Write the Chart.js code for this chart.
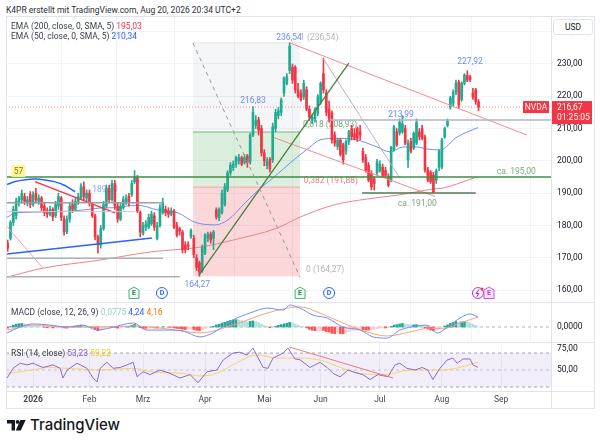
<!DOCTYPE html>
<html>
<head>
<meta charset="utf-8">
<title>NVDA Tageschart</title>
<style>
  body { margin: 0; background: #fff; font-family: Roboto, "Noto Sans", sans-serif; }
  #wrap { position: relative; width: 600px; height: 444px; overflow: hidden; background: #fff; }
  canvas { position: absolute; left: 0; }
  .t { position: absolute; font-size: 8.5px; line-height: 12px; color: #131722; white-space: nowrap; }
  .sep { position: absolute; background: #e0e3eb; }
</style>
</head>
<body>
<div id="wrap">
  <canvas id="price" style="top:17px"></canvas>
  <canvas id="macd" style="top:303px"></canvas>
  <canvas id="rsi" style="top:343px"></canvas>

  <div class="sep" style="left:6px;top:16px;width:588px;height:1px"></div>
  <div class="sep" style="left:6px;top:408px;width:588px;height:1px"></div>
  <div class="sep" style="left:6px;top:16px;width:1px;height:393px"></div>
  <div class="sep" style="left:594px;top:16px;width:1px;height:393px"></div>
  <div class="sep" style="left:551px;top:16px;width:1px;height:393px"></div>
  <div class="sep" style="left:6px;top:302px;width:588px;height:1px"></div>
  <div class="sep" style="left:6px;top:342px;width:588px;height:1px"></div>
  <div class="sep" style="left:6px;top:391px;width:588px;height:1px"></div>

  <div class="t" style="left:6px;top:4px;color:#2a2e39">K4PR erstellt mit TradingView.com, Aug 20, 2026 20:34 UTC+2</div>
  <div class="t" style="left:11px;top:20px;color:#3a3e4a">EMA (200, close, 0, SMA, 5) <span style="color:#f23645">195,03</span></div>
  <div class="t" style="left:11px;top:30px;color:#3a3e4a">EMA (50, close, 0, SMA, 5) <span style="color:#2962ff">210,34</span></div>
  <div class="t" style="left:11px;top:306px;color:#3a3e4a">MACD (close, 12, 26, 9) <span style="color:#8fd3c9">0,0775</span> <span style="color:#2962ff">4,24</span> <span style="color:#ff6d00">4,16</span></div>
  <div class="t" style="left:11px;top:347px;color:#3a3e4a">RSI (14, close) <span style="color:#7e57c2">53,23</span> <span style="color:#f5c518">59,22</span></div>
  <div class="t" style="left:553px;top:19px;width:38px;height:14px;line-height:14px;text-align:center;border:1px solid #e0e3eb;border-radius:3px;background:#fff">USD</div>

  <svg style="position:absolute;left:7px;top:420px" width="19" height="11" viewBox="0 0 19 11">
    <path d="M0 0 H8 V10.5 H4.6 V3.6 H0 Z" fill="#131722"/>
    <circle cx="10.6" cy="1.9" r="1.9" fill="#131722"/>
    <path d="M13.4 0 H18.6 L13.8 10.5 H8.8 Z" fill="#131722"/>
  </svg>
  <div class="t" style="left:30px;top:416px;font-size:15px;line-height:18px;font-family:Inter, Roboto, sans-serif;font-weight:500">TradingView</div>
</div>

<script src="https://cdn.jsdelivr.net/npm/chart.js"></script>
<script>
  // Tageskerzen, Index 0 = 2. Jan 2026 (Handelstage), erster Wert = Index -9
  const FIRST = -9;
  const opens = [
    174.5,176,181,183,187,188,189,187,189.5,
    186.5,190,187.5,188.5,186,184.5,183.5,185,183,186,
    188.5,182,178,182,186.5,185,187,188.5,192,188.5,
    190,186.5,183,176.5,174,179,186,191.5,188,193,
    186,182,185.5,187,189,189.5,193.5,194.7,184,177.5,
    179.5,179.5,180.5,183,176,180,184,185,184.5,183.5,
    184.5,180,179,178,174,174,176.5,176,170,168.5,
    166,171.5,176,177.3,176,184.8,182.5,184,186.5,191,
    196.3,198,199,200,201,199.5,201.5,199.7,208,211,
    212.7,210,202.5,198.5,200.5,200.3,210,214,215,221,
    224,228,229,229,222,221,219.8,222,216,212.5,
    213,214.8,218,227,221,216,214.8,208,204.5,206.5,
    205,203,206,210,208.5,210,209,203,201,198.7,
    196,194.5,196.3,197,198,197,195,194,203.4,209,
    208.6,209,210,200.3,206,204,205.5,209,210,207.4,
    197.2,196.5,195.6,194,198,198.1,207.4,211,216.7,217.9,
    221.3,224.4,219,224,226.5,226,221,222,218.3
  ];
  const highs = [
    175.5,181.5,186,188.5,189,191,190,189,190.5,
    190.5,191.5,189.5,189,187,185.5,186,185.5,187.5,190,
    189,183,183,187,188,188.5,190,193,193.5,191,
    191,187,183.5,177,180,187.5,192.5,192.5,194,194,
    187,187,189,189.5,190,194,197,195.5,184.5,181,
    181.5,183.5,184.5,184,181,186.5,188.5,186,185.5,185.5,
    185,181,179.5,178.5,175,175,179,177,171,169,
    174,177.5,178,178,178.5,185.5,185.5,191,193,197,
    199.5,200,201.5,202,201.5,202,202,208.5,216.83,214,
    213.5,211,203.5,201,201,211.7,216,216.5,219.5,226,
    227,236.54,230,229.5,224,222,225,223,217,214.5,
    216.5,220.5,224.5,231.8,222,218.5,215.5,209,207,207,
    205.5,206.5,209.5,211,210,210.5,211,204,202,199.5,
    197,195,200.5,200,199,198,196,204.5,211,210,
    213,213.99,211,206.5,207,209,213,210,211,208,
    198,197,196.5,197.5,203.5,207,210.5,213,220,222,
    225,225,224.5,227,227.92,226.5,222.5,222.5,219
  ];
  const lows = [
    172,175.5,180,182,186,187,186.5,186,185.5,
    186,187,186.5,184.5,183,182.5,183,181.5,182.5,185,
    181.5,177,177.5,181,184,184.5,186.5,188,188,187.5,
    186,182.5,175.5,171.5,173,178.5,185.5,187,187.5,185,
    181,181.5,185,186.5,186,189,193,184,176.5,177,
    178.5,179,180,178.5,175.5,179.5,183.5,183,182.5,183,
    179,176.5,177,171.5,171.5,172.5,176,170,166,164.27,
    165.5,171,175,174.5,172.5,182,181.5,183.5,186,190.5,
    195.5,197,198,199,198.5,199,198,199,207.5,210,
    208,201.5,198.5,197.5,196.5,199.5,209,213,214,220,
    223.5,227,224,221,219.5,218.5,219,215.5,212.5,211.5,
    212,214,217.5,221,214,212,205.5,204.5,203.5,201.5,
    199,202,205,206.5,206.5,206,206.5,199.5,196.5,193.5,
    191,191,195.5,196.5,195,195,192,193.5,203,204.5,
    208,208.5,205,198,202.5,203.5,205,206.5,206.5,196.5,
    193.5,193,190,193,197,197.5,207,210.5,216,217,
    220.5,216.5,218.5,223.5,224.5,224.5,219,217.5,215.5
  ];
  const closes = [
    173,181,185,187.5,188.5,190,187.5,188,186.5,
    189.5,188,188.5,185.5,184,183.5,185,182.6,186.5,189,
    182.5,178,182,186,185,187.5,189,192,189,190,
    187,183,176.5,174,179,186.5,191.5,188,193,186,
    182,186,188,188.5,187,193,195,184.5,178,180,
    180.5,182.5,183.5,179.5,180,185.5,187,184,183.5,184.5,
    179.5,177,178.3,172.5,172.5,173.5,178.5,171,167,165.5,
    173.3,177,177.4,175.5,178,182.6,185,190,192,196.3,
    198.7,199,201,201,199,201,199.5,208,215,212.5,
    209.5,202.5,200,200,197.5,210.5,215,215.5,218.9,225.6,
    226,235.5,225,222,220,219,224,216,213.6,213.5,
    216,219.8,224,222,215,213,206.5,205.5,206.5,202,
    200.3,206,209,207.5,207,207,208,200.3,197,194,
    192,193,199.7,199,195.5,195.5,192.5,204.3,210.5,205,
    212,211.5,205.5,205.5,203,208.5,212,207.5,207,197.2,
    194,193.5,190.4,197,203,206.5,210,212.5,219.5,221.3,
    224.1,217.3,224,226.6,225,225.2,219.8,218.3,216.67
  ];

  // gleitende Durchschnitte [Index, Wert]
  const ema50 = [[-9.2,182.6],[-5.7,184],[6,184.2],[17.7,184.8],[23.8,185.4],[28.4,185.5],[36.9,186.3],
    [44.3,184.8],[51.4,183.9],[57.4,181],[64.5,180.2],[69.1,181.7],[75.2,187],[81.2,192],[84.8,194.5],
    [91.1,199.3],[98.2,204.3],[101.8,206.5],[107.8,207],[114.9,206.5],[122,204.3],[126.6,202.8],
    [131.2,204.3],[136.2,204.3],[139.7,203.7],[144.3,203.4],[150.4,207.4],[157.8,210.34]];
  const ema200 = [[-9.2,164],[3.5,166.8],[23.8,169.3],[41.5,171.8],[59.2,173.3],[70.9,175.5],[86.5,179.2],
    [94.7,182.6],[106.4,186.3],[118.4,188.2],[130.1,189.5],[141.8,191.3],[145.4,191.6],[157.4,195.03]];

  // MACD (12, 26, 9)
  const macdLine = [[-9.2,-2.5],[-4.6,0],[0,1.3],[6,0.8],[12,0],[17.7,0.8],[22.7,-1.3],[27.3,-0.4],[35.5,1.7],
    [40.4,-1.3],[47.5,-1.3],[53.2,-1.7],[59.2,-4.2],[63.8,-2.5],[70.9,3],[76.9,5.9],[83,8],[88.7,7.2],
    [91.1,9.3],[94.7,8],[99.3,5],[104.3,3.8],[109.9,0],[116,-1.3],[120.6,-4.2],[125.5,-4.7],[130.1,-1.3],
    [136.2,0.4],[139.7,0.8],[143.3,-2.5],[147.9,0.8],[151.4,3.8],[155,5.5],[157.8,4.24]];
  const macdSignal = [[-9.2,-1.3],[0,0.8],[12,0],[23.8,0],[35.5,0.4],[47.5,-0.8],[59.2,-2.5],[70.9,0.8],
    [83,5.9],[94.7,8.5],[101.8,5.9],[109.9,1.7],[118.4,-2.1],[125.5,-3.8],[133.7,-2.1],[140.8,-0.4],
    [145.4,-0.8],[151.4,1.7],[157.8,4.16]];
  const macdHist = [
    -0.5,0.2,0.8,1.2,1.4,1.5,1.3,1.0,0.7,
    0.5,0.4,0.3,0.1,-0.1,-0.3,-0.2,-0.4,-0.1,0.3,
    0.1,-0.4,-0.5,-0.2,0.1,0.3,0.5,0.8,0.6,0.4,
    0.2,-0.3,-1.0,-1.6,-1.5,-0.9,-0.3,-0.2,0.2,-0.1,
    -0.5,-0.4,-0.1,0.2,0.3,0.7,1.1,0.5,-0.3,-0.6,
    -0.6,-0.5,-0.3,-0.4,-0.5,-0.2,0.1,0.0,-0.1,-0.1,
    -0.4,-0.6,-0.7,-1.0,-1.1,-1.0,-0.8,-1.1,-1.4,-1.6,
    -1.1,-0.6,-0.2,0.0,0.3,0.9,1.2,1.7,2.0,2.4,
    2.8,3.0,3.1,3.0,2.7,2.5,2.2,2.4,2.6,2.3,
    1.9,1.2,0.6,0.2,-0.3,-0.2,0.3,0.7,1.0,1.3,
    1.6,2.0,1.7,1.2,0.8,0.3,0.1,-0.4,-1.0,-1.4,
    -1.6,-1.5,-1.4,-1.5,-1.9,-2.2,-2.7,-2.8,-2.7,-2.8,
    -2.9,-2.5,-2.0,-1.6,-1.4,-1.2,-1.0,-1.2,-1.3,-1.3,
    -1.2,-1.0,-0.7,-0.5,-0.4,-0.4,-0.3,0.2,0.8,1.0,
    1.3,1.5,1.3,1.1,0.9,0.9,1.0,0.8,0.6,-0.3,
    -0.9,-1.3,-1.6,-1.4,-0.9,-0.2,0.4,0.9,1.5,1.9,
    2.3,2.1,2.2,2.3,2.1,1.8,1.2,0.7,0.08
  ];

  // RSI (14) und sein gleitender Durchschnitt
  const rsi = [[-9.2,40.6],[-7.1,52],[-4.6,58],[-2.1,56],[0,58],[3.5,53],[7.1,56],[9.6,52],[10.6,40.6],
    [12.1,50],[15.6,58],[19.1,52],[21.3,40.6],[22.7,36],[23.8,52],[26.2,59],[28.4,52],[30.9,53],[33.3,56],
    [35.5,59],[36.9,42],[39,48],[41.5,44.6],[45,50],[48.6,46],[52.1,40.6],[55.7,44.6],[58.5,35],[61.7,48],
    [65.2,50],[67.4,61.7],[70.9,70],[73.4,71],[75.9,67.6],[78,75.8],[81.6,53],[83.3,52],[85.1,64],[88.7,70],
    [90.4,75.8],[92.9,63],[94.7,62],[98.2,53],[101.8,59],[104.3,53],[106.4,46],[108.9,42],[111.7,50],
    [114.2,47],[117,44.6],[119.5,38.8],[122.3,44.6],[125.9,42],[128.4,56],[130.1,58],[132.6,52],[135.5,50],
    [138,53],[140,50],[141.8,38.8],[144.3,52],[146.8,61.7],[148.9,64],[150.4,58],[152.5,63],[155,63],
    [156,56],[157.8,53.23]];
  const rsiMa = [[-9.2,46],[0,50],[5,53],[12.1,52],[23.8,50],[35.5,52],[41.5,48],[53.2,46],[59.2,43],
    [65.2,46],[70.9,56],[79.4,67.6],[86.5,64],[94.7,64],[101.8,61.7],[109.9,52],[118.4,45],[125.5,45],
    [133.7,50],[144.3,50],[151.4,53],[157.8,59.22]];

  // Achsen
  const priceTicks = [160,170,180,190,200,210,220,230,240];
  const monthIdx = [0,20,39,61,82,102,123,145,166];
  const monthLbl = ['2026','Feb','Mrz','Apr','Mai','Jun','Jul','Aug','Sep'];
  const lastPrice = 216.67;

  // Fibonacci-Retracement 164,27 -> 236,54
  const fibLow = 164.27, fib382 = 191.88, fib618 = 208.93, fibHigh = 236.54;

  const X_MIN = -9.6, X_MAX = 183.7;
  const UP = '#22ab94', DOWN = '#f23645';
  const GRID = '#f0f3fa';

  Chart.defaults.font.family = 'Roboto, "Noto Sans", sans-serif';
  Chart.defaults.font.size = 8.5;
  Chart.defaults.color = '#131722';
  Chart.defaults.animation = false;
  Chart.defaults.events = [];
  Chart.defaults.plugins.legend.display = false;
  Chart.defaults.plugins.tooltip.enabled = false;

  const fmt = (v, d) => v.toFixed(d).replace('.', ',');
  const pts = arr => arr.map(([x, y]) => ({x, y}));
  const idx = k => FIRST + k;

  function line(points, color, width, extra) {
    return Object.assign({
      type: 'line', data: pts(points), borderColor: color, borderWidth: width,
      pointRadius: 0, fill: false, tension: 0, order: 2
    }, extra || {});
  }

  function xAxis(showTicks) {
    return {
      type: 'linear', min: X_MIN, max: X_MAX, offset: false,
      grid: {color: GRID, drawTicks: false}, border: {display: false},
      ticks: {
        display: showTicks, autoSkip: false, maxRotation: 0, padding: 4, color: '#434651',
        font: c => ({size: 8.5, weight: c.tick && c.tick.value === 0 ? 'bold' : 'normal'}),
        callback: v => monthLbl[monthIdx.indexOf(v)]
      },
      afterBuildTicks: s => { s.ticks = monthIdx.map(v => ({value: v})); },
      afterFit: s => { s.height = showTicks ? 17 : 0; s.paddingLeft = 0; s.paddingRight = 0; }
    };
  }

  function yAxis(min, max, ticks, digits, grid) {
    return {
      position: 'right', min, max,
      grid: {display: grid, color: GRID, drawTicks: false}, border: {display: false},
      ticks: {padding: 6, color: '#131722', callback: v => fmt(v, digits)},
      afterBuildTicks: s => { s.ticks = ticks.map(v => ({value: v})); },
      afterFit: s => { s.width = 49; s.paddingTop = 0; s.paddingBottom = 0; }
    };
  }

  function drawLabel(chart, t) {
    const ctx = chart.ctx;
    const x = chart.scales.x.getPixelForValue(t.at[0]);
    const y = chart.scales.y.getPixelForValue(t.at[1]);
    ctx.save();
    ctx.font = '8.5px Roboto, "Noto Sans", sans-serif';
    ctx.fillStyle = t.color;
    ctx.textAlign = t.align || 'center';
    ctx.textBaseline = 'middle';
    ctx.fillText(t.text, x, y);
    ctx.restore();
  }

  function badge(chart, b) {
    const ctx = chart.ctx;
    const x = chart.scales.x.getPixelForValue(b.at);
    const y = chart.scales.y.getPixelForValue(159.1);
    ctx.save();
    ctx.lineWidth = 1;
    if (b.kind === 'E' || b.kind === 'P') {
      ctx.beginPath();
      ctx.moveTo(x - 5, y + 5.5); ctx.lineTo(x - 5, y - 3); ctx.lineTo(x, y - 6);
      ctx.lineTo(x + 5, y - 3); ctx.lineTo(x + 5, y + 5.5); ctx.closePath();
      ctx.fillStyle = b.kind === 'E' ? '#eef7f2' : '#fcecfe';
      ctx.strokeStyle = b.kind === 'E' ? '#4caf7d' : '#e040fb';
      ctx.fill(); ctx.stroke();
      ctx.fillStyle = b.kind === 'E' ? '#2e7d5b' : '#c22edb';
      ctx.font = 'bold 7px Roboto, sans-serif';
      ctx.textAlign = 'center'; ctx.textBaseline = 'middle';
      ctx.fillText('E', x, y + 0.5);
    } else if (b.kind === 'D') {
      ctx.beginPath(); ctx.arc(x, y, 5.5, 0, Math.PI * 2);
      ctx.fillStyle = '#fff'; ctx.strokeStyle = '#2962ff'; ctx.fill(); ctx.stroke();
      ctx.fillStyle = '#2962ff'; ctx.font = 'bold 7px Roboto, sans-serif';
      ctx.textAlign = 'center'; ctx.textBaseline = 'middle';
      ctx.fillText('D', x, y + 0.5);
    } else {
      ctx.beginPath(); ctx.arc(x, y, 5.5, 0, Math.PI * 2);
      ctx.fillStyle = '#f8eefa'; ctx.strokeStyle = '#ab47bc'; ctx.fill(); ctx.stroke();
      ctx.beginPath();
      ctx.moveTo(x + 1, y - 3.5); ctx.lineTo(x - 1.8, y + 0.5); ctx.lineTo(x + 0.8, y + 0.5); ctx.lineTo(x - 1, y + 3.5);
      ctx.strokeStyle = '#9c27b0'; ctx.stroke();
      ctx.beginPath(); ctx.arc(x + 4, y - 4, 1.5, 0, Math.PI * 2);
      ctx.fillStyle = '#f23645'; ctx.fill();
    }
    ctx.restore();
  }

  // Texte hinter den Kerzen
  const backLabels = [
    {text: '189,00', at: [25.5, 191], color: '#8aa6f8'},
    {text: '1 (236,54)', at: [94.7, 238.05], color: '#b2b5be', align: 'left'},
    {text: '0,618 (208,93)', at: [95.7, 211], color: '#7aa97d', align: 'left'},
    {text: '0,382 (191,88)', at: [96, 193.8], color: '#ef7e85', align: 'left'},
    {text: '0 (164,27)', at: [96.8, 166.2], color: '#b2b5be', align: 'left'}
  ];
  // Texte vor den Kerzen
  const frontLabels = [
    {text: '236,54', at: [90.8, 238.05], color: '#6b8ef7'},
    {text: '216,83', at: [78, 218.5], color: '#6b8ef7'},
    {text: '164,27', at: [58.2, 161.6], color: '#6b8ef7'},
    {text: '213,99', at: [130.5, 214.3], color: '#6b8ef7'},
    {text: '227,92', at: [155, 230.6], color: '#6b8ef7'},
    {text: 'ca. 195,00', at: [164.5, 196.6], color: '#7aa97d', align: 'left'},
    {text: 'ca. 191,00', at: [129.4, 186.7], color: '#7aa97d', align: 'left'}
  ];
  const badges = [
    {kind: 'E', at: 35.8}, {kind: 'D', at: 45.7}, {kind: 'E', at: 94.7},
    {kind: 'D', at: 105}, {kind: 'L', at: 157.8}, {kind: 'P', at: 161.7}
  ];

  const pricePlugin = {
    id: 'priceText',
    beforeDatasetsDraw(chart) { backLabels.forEach(t => drawLabel(chart, t)); },
    afterDatasetsDraw(chart) {
      frontLabels.forEach(t => drawLabel(chart, t));
      badges.forEach(b => badge(chart, b));
      const ctx = chart.ctx, y = chart.scales.y;
      // "57" Markierung
      const mx = chart.scales.x.getPixelForValue(-5.2), my = y.getPixelForValue(196.9);
      ctx.save();
      ctx.fillStyle = '#fff59d'; ctx.fillRect(mx - 7, my - 6, 14, 12);
      ctx.fillStyle = '#8d7a12'; ctx.font = '8.5px Roboto, sans-serif';
      ctx.textAlign = 'center'; ctx.textBaseline = 'middle'; ctx.fillText('57', mx, my + 0.5);
      // Kursmarke
      const py = y.getPixelForValue(lastPrice);
      const right = chart.chartArea.right;
      ctx.fillStyle = '#f23645';
      ctx.fillRect(right - 28, py - 6, 26, 12);
      ctx.fillRect(right + 1, py - 6, 40, 23);
      ctx.fillStyle = '#fff';
      ctx.fillText('NVDA', right - 15, py + 0.5);
      ctx.textAlign = 'left';
      ctx.fillText(fmt(lastPrice, 2), right + 6, py + 0.5);
      ctx.fillText('01:25:05', right + 6, py + 10.5);
      ctx.restore();
    }
  };

  // Kerzen als schwebende Balken
  const candleColors = opens.map((o, k) => closes[k] >= o ? UP : DOWN);
  const wickData = highs.map((h, k) => ({x: idx(k), y: [lows[k], h]}));
  const bodyData = opens.map((o, k) => ({x: idx(k), y: [Math.min(o, closes[k]), Math.max(o, closes[k])]}));

  const fibBox = (lo, hi) => [[56.7, hi], [94.7, hi]];
  const priceSets = [
    line(fibBox(0, fibLow), 'rgba(0,0,0,0)', 0, {order: 20}),
    line(fibBox(0, fib382), '#f4a3a9', 1, {order: 20, fill: '-1', backgroundColor: 'rgba(242,54,69,0.2)'}),
    line(fibBox(0, fib618), '#7fb883', 1, {order: 20, fill: '-1', backgroundColor: 'rgba(76,175,80,0.2)'}),
    line(fibBox(0, fibHigh), '#e3e4e8', 1, {order: 20, fill: '-1', backgroundColor: 'rgba(120,123,134,0.08)'}),
    line([[X_MIN, lastPrice], [X_MAX, lastPrice]], 'rgba(242,54,69,0.55)', 1, {order: 9, borderDash: [1, 2]}),
    line(ema200, '#f28087', 1, {order: 8, cubicInterpolationMode: 'monotone'}),
    line(ema50, '#6f8ff8', 1, {order: 8, cubicInterpolationMode: 'monotone'}),
    {type: 'bar', data: wickData, backgroundColor: candleColors, barThickness: 1, grouped: false, order: 6},
    {type: 'bar', data: bodyData, backgroundColor: candleColors, barThickness: 2, grouped: false, minBarLength: 1, order: 5},
    // Zeichnungen
    line([[56.7, 236.5], [94.7, 164]], '#9598a1', 1, {borderDash: [4, 4]}),
    line([[X_MIN, 195], [X_MAX, 195]], '#3d8f41', 1.5),
    line([[116.7, 190.1], [157, 190.1]], 'rgba(76,125,80,0.75)', 2),
    line([[105.3, 212.7], [X_MAX, 212.7]], '#b2b5be', 1.5),
    line([[X_MIN, 187.05], [46.1, 187.05]], '#9e9e9e', 1.5),
    line([[X_MIN, 184.3], [36.2, 184.3]], '#c8c9cd', 1),
    line([[X_MIN, 169.85], [46.1, 169.85]], '#b0b0b0', 1.5),
    line([[X_MIN, 164.15], [52.1, 164.15]], '#b0b0b0', 1.5),
    line([[58.9, 164.7], [112, 230.3]], '#4a7f3a', 1.3),
    line([[91, 236.54], [175.2, 208]], '#f5898f', 1),
    line([[85.5, 207.2], [142.5, 189]], '#f5898f', 1),
    line([[102.8, 231.8], [130.1, 194.7]], '#b2b5be', 1),
    line([[-9.2, 171.2], [42.2, 176.1]], '#2962ff', 1.5),
    line([[-9.2, 192.7], [-6.4, 193.6], [-2.8, 194.2], [0.7, 194.4], [4.3, 194.1], [7.8, 193.5], [11.3, 192.4], [14.9, 190.4]],
      '#2962ff', 1.5, {cubicInterpolationMode: 'monotone'}),
    line([[0.7, 193.6], [29.1, 183.9]], '#f23645', 1.5),
    line([[-9.2, 179.6], [3.5, 166.8]], '#f7a1a6', 1)
  ];

  const pc = document.getElementById('price');
  pc.width = 600; pc.height = 285;
  new Chart(pc, {
    type: 'bar',
    data: {datasets: priceSets},
    options: {
      responsive: false,
      layout: {padding: {left: 6, right: 0, top: 0, bottom: 0}},
      scales: {x: xAxis(false), y: yAxis(156.32, 244.55, priceTicks, 2, true)}
    },
    plugins: [pricePlugin]
  });

  // MACD
  const histColors = macdHist.map((v, k) => {
    const p = k ? macdHist[k - 1] : v;
    return v >= 0 ? (v >= p ? '#26a69a' : '#b2dfdb') : (v <= p ? '#ff5252' : '#ffcdd2');
  });
  const mc = document.getElementById('macd');
  mc.width = 600; mc.height = 39;
  new Chart(mc, {
    type: 'bar',
    data: {datasets: [
      line([[X_MIN, 0], [X_MAX, 0]], '#b2b5be', 1, {borderDash: [3, 3], order: 9}),
      {type: 'bar', data: macdHist.map((v, k) => ({x: idx(k), y: v})), backgroundColor: histColors,
        barThickness: 2, grouped: false, order: 5},
      line(macdSignal, '#f9a27a', 1, {cubicInterpolationMode: 'monotone', order: 3}),
      line(macdLine, '#6f8ff8', 1, {cubicInterpolationMode: 'monotone', order: 2})
    ]},
    options: {
      responsive: false,
      layout: {padding: {left: 6, right: 0, top: 0, bottom: 0}},
      scales: {x: xAxis(false), y: yAxis(-6.36, 10.17, [0], 4, false)}
    }
  });

  // RSI
  const rc = document.getElementById('rsi');
  rc.width = 600; rc.height = 65;
  new Chart(rc, {
    type: 'line',
    data: {datasets: [
      line([[X_MIN, 30], [X_MAX, 30]], '#a3a6af', 1, {borderDash: [3, 3], order: 9}),
      line([[X_MIN, 70], [X_MAX, 70]], '#a3a6af', 1, {borderDash: [3, 3], order: 9, fill: '-1', backgroundColor: 'rgba(126,87,194,0.1)'}),
      line([[X_MIN, 50], [X_MAX, 50]], '#c3c5cc', 1, {borderDash: [3, 3], order: 8}),
      line(rsiMa, '#f6d36b', 1, {cubicInterpolationMode: 'monotone', order: 4}),
      line(rsi, '#8a6ccc', 1, {order: 3}),
      line([[91, 77], [127.7, 40.6]], '#f0787e', 1, {order: 2})
    ]},
    options: {
      responsive: false,
      layout: {padding: {left: 6, right: 0, top: 0, bottom: 0}},
      scales: {x: xAxis(true), y: yAxis(25.3, 81.8, [50, 75], 2, false)}
    }
  });
</script>
</body>
</html>
